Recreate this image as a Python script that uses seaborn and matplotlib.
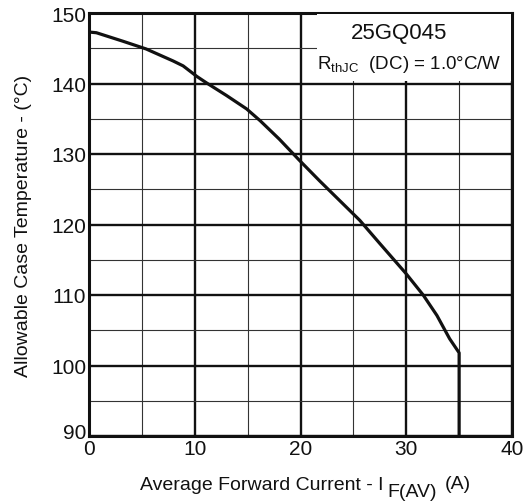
import numpy as np
import pandas as pd
import matplotlib
matplotlib.use("Agg")
import matplotlib.pyplot as plt
import matplotlib.transforms as mtrans
import seaborn as sns
from matplotlib.patches import Rectangle

# data
current = [0.0, 0.7, 3.2, 5.4, 7.95, 8.9, 10.2, 11.1, 13.0, 14.9, 16.2, 18.0,
           19.9, 21.8, 23.7, 25.6, 27.5, 30.0, 31.6, 32.9, 34.1, 35.0, 35.0]
case_temp = [147.3, 147.2, 146.0, 144.9, 143.2, 142.5, 141.0, 140.1, 138.3, 136.4, 134.7, 132.1,
             129.1, 126.2, 123.4, 120.6, 117.3, 113.0, 110.0, 107.1, 103.8, 101.8, 90.0]

x_ticks = [0, 10, 20, 30, 40]
y_ticks = [90, 100, 110, 120, 130, 140, 150]
x_minor = [5, 15, 25, 35]
y_minor = [95, 105, 115, 125, 135, 145]

part_name = "25GQ045"
rth_text = r"R$_{\mathregular{thJC}}$  (DC) = 1.0°C/W"

sns.set_style("white")
plt.rcParams['font.family'] = ['Liberation Sans', 'DejaVu Sans']
plt.rcParams['mathtext.fontset'] = 'custom'
plt.rcParams['mathtext.rm'] = 'Liberation Sans'

fig = plt.figure(figsize=(5.23, 5.02), dpi=100)
ax = fig.add_axes([89/523, 1 - 437/502, 423/523, 423/502])

df = pd.DataFrame({'current': current, 'temp': case_temp})
sns.lineplot(data=df, x='current', y='temp', sort=False, estimator=None,
             color='#111111', linewidth=2.3, ax=ax, zorder=5)

ax.set_xlim(0, 40)
ax.set_ylim(90, 150)
ax.set_xticks(x_ticks)
ax.set_yticks(y_ticks)
ax.set_xticks(x_minor, minor=True)
ax.set_yticks(y_minor, minor=True)
ax.grid(which='major', color='#111111', linewidth=1.7)
ax.grid(which='minor', color='#333333', linewidth=0.8)
ax.set_axisbelow(True)
ax.tick_params(which='both', length=0, labelsize=15, pad=2, colors='#111111')

# lift the "90" label so it clears the "0" below it
lbl90 = ax.get_yticklabels()[0]
lbl90.set_transform(lbl90.get_transform() +
                    mtrans.ScaledTranslation(0, 5/100, fig.dpi_scale_trans))

for sp in ax.spines.values():
    sp.set_visible(True)
    sp.set_linewidth(2.2)
    sp.set_color('#111111')

# white box behind the part annotation
ax.add_patch(Rectangle((21.6, 140.3), 18.3, 9.6, facecolor='white',
                       edgecolor='none', zorder=3))
ax.text(29.3, 147.3, part_name, ha='center', va='center', fontsize=16,
        color='#111111', zorder=6)
ax.text(30.3, 142.8, rth_text, ha='center', va='center', fontsize=13.5,
        color='#111111', zorder=6)

ax.set_xlabel('')
ax.set_ylabel('Allowable Case Temperature - (°C)', fontsize=14, labelpad=14,
              color='#111111')

# x label with the large lowered subscript
fig.text(383/523, 1 - 486/502, 'Average Forward Current - I', ha='right', va='center',
         fontsize=14, color='#111111')
fig.text(387/523, 1 - 493/502, 'F(AV)', ha='left', va='center', fontsize=14, color='#111111')
fig.text(445/523, 1 - 485/502, '(A)', ha='left', va='center', fontsize=14, color='#111111')

fig.savefig('out.png', dpi=100)
